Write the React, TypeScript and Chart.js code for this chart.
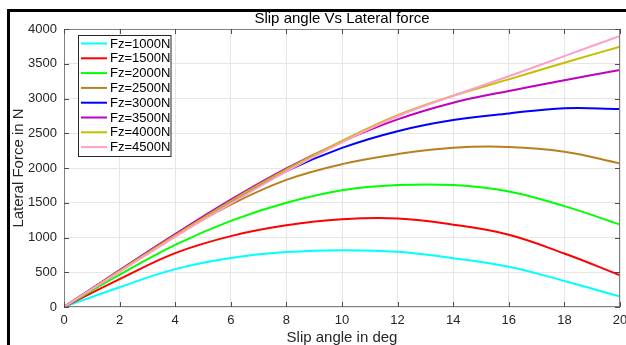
import { useEffect, useRef } from 'react';
import { Chart, registerables } from 'chart.js';

Chart.register(...registerables);

const FONT = '"Liberation Sans", Arial, Helvetica, sans-serif';

const chartTitle = 'Slip angle Vs Lateral force';
const xTitle = 'Slip angle in deg';
const yTitle = 'Lateral Force in N';

const slipAngles = [0, 2, 4, 6, 8, 10, 12, 14, 16, 18, 20];

const fz1000 = [0, 285, 545, 705, 790, 818, 795, 703, 580, 375, 152];
const fz1500 = [0, 400, 775, 1020, 1175, 1262, 1274, 1185, 1040, 769, 457];
const fz2000 = [0, 465, 895, 1240, 1500, 1681, 1754, 1754, 1662, 1451, 1187];
const fz2500 = [0, 515, 1025, 1475, 1830, 2056, 2200, 2291, 2303, 2234, 2066];
const fz3000 = [0, 525, 1040, 1520, 1955, 2290, 2530, 2690, 2785, 2860, 2849];
const fz3500 = [0, 530, 1050, 1545, 1995, 2380, 2700, 2940, 3108, 3262, 3411];
const fz4000 = [0, 520, 1030, 1525, 1980, 2390, 2760, 3040, 3275, 3515, 3746];
const fz4500 = [0, 505, 1010, 1490, 1950, 2370, 2745, 3040, 3320, 3610, 3900];

const seriesLabels = ['Fz=1000N', 'Fz=1500N', 'Fz=2000N', 'Fz=2500N', 'Fz=3000N', 'Fz=3500N', 'Fz=4000N', 'Fz=4500N'];
const seriesValues = [fz1000, fz1500, fz2000, fz2500, fz3000, fz3500, fz4000, fz4500];
const seriesColors = ['#00ffff', '#ff0000', '#00ff00', '#b8801f', '#0000ff', '#c000c0', '#c4be00', '#ff9ec8'];

const xTicks = { min: 0, max: 20, step: 2 };
const yTicks = { min: 0, max: 4000, step: 500 };

const decorPlugin = {
  id: 'decor',
  afterDatasetsDraw(chart: any) {
    const { ctx, chartArea: a, scales } = chart;
    ctx.save();
    ctx.strokeStyle = '#808080';
    ctx.lineWidth = 1;
    ctx.strokeRect(a.left + 0.5, a.top + 0.5, a.right - a.left - 1, a.bottom - a.top - 1);
    ctx.strokeStyle = '#4d4d4d';
    ctx.beginPath();
    for (let v = xTicks.min; v <= xTicks.max; v += xTicks.step) {
      const px = Math.round(scales.x.getPixelForValue(v)) + 0.5;
      ctx.moveTo(px, a.bottom);
      ctx.lineTo(px, a.bottom - 5);
      ctx.moveTo(px, a.top);
      ctx.lineTo(px, a.top + 5);
    }
    for (let v = yTicks.min; v <= yTicks.max; v += yTicks.step) {
      const py = Math.round(scales.y.getPixelForValue(v)) + 0.5;
      ctx.moveTo(a.left, py);
      ctx.lineTo(a.left + 5, py);
      ctx.moveTo(a.right, py);
      ctx.lineTo(a.right - 5, py);
    }
    ctx.stroke();

    const lx = 78.5, ly = 35.5, lw = 92.5, lh = 121;
    ctx.fillStyle = '#ffffff';
    ctx.fillRect(lx, ly, lw, lh);
    ctx.strokeStyle = '#262626';
    ctx.lineWidth = 1;
    ctx.strokeRect(lx, ly, lw, lh);
    ctx.font = `13px ${FONT}`;
    ctx.textBaseline = 'middle';
    ctx.textAlign = 'left';
    seriesLabels.forEach((lab, i) => {
      const cy = 43.5 + 14.8 * i;
      ctx.strokeStyle = seriesColors[i];
      ctx.lineWidth = 2;
      ctx.beginPath();
      ctx.moveTo(81, cy);
      ctx.lineTo(107, cy);
      ctx.stroke();
      ctx.fillStyle = '#000000';
      ctx.fillText(lab, 110, cy + 0.5);
    });
    ctx.restore();
  },
  afterDraw(chart: any) {
    const { ctx, chartArea: a } = chart;
    ctx.save();
    ctx.fillStyle = '#000000';
    ctx.font = `15px ${FONT}`;
    ctx.textAlign = 'center';
    ctx.textBaseline = 'middle';
    ctx.fillText(chartTitle, (a.left + a.right) / 2, 18.5);
    ctx.fillStyle = '#262626';
    ctx.fillText(xTitle, (a.left + a.right) / 2, 338);
    ctx.translate(18.5, (a.top + a.bottom) / 2);
    ctx.rotate(-Math.PI / 2);
    ctx.fillText(yTitle, 0, 0);
    ctx.restore();
  },
};

export default function App() {
  const ref = useRef<HTMLCanvasElement>(null);
  useEffect(() => {
    const datasets = seriesLabels.map((label, i) => ({
      label,
      data: slipAngles.map((x, j) => ({ x, y: seriesValues[i][j] })),
      borderColor: seriesColors[i],
      backgroundColor: seriesColors[i],
      borderWidth: 2,
      pointRadius: 0,
      tension: 0.4,
      fill: false,
      order: seriesLabels.length - i,
    }));
    const chart = new Chart(ref.current as HTMLCanvasElement, {
      type: 'line',
      data: { datasets },
      options: {
        animation: false,
        responsive: false,
        maintainAspectRatio: false,
        layout: { padding: { top: 29, right: 20, left: 0, bottom: 0 } },
        plugins: {
          legend: { display: false },
          title: { display: false },
          tooltip: { enabled: false },
        },
        scales: {
          x: {
            type: 'linear',
            min: xTicks.min,
            max: xTicks.max,
            afterFit: (s: any) => {
              s.height = 38;
              s.paddingLeft = 0;
              s.paddingRight = 0;
            },
            grid: { color: '#e6e6e6', drawTicks: false },
            border: { display: false },
            ticks: {
              stepSize: xTicks.step,
              padding: 6,
              color: '#262626',
              font: { family: FONT, size: 13 },
              callback: (v: any) => String(v),
            },
          },
          y: {
            type: 'linear',
            min: yTicks.min,
            max: yTicks.max,
            afterFit: (s: any) => {
              s.width = 64;
              s.paddingTop = 0;
              s.paddingBottom = 0;
            },
            grid: { color: '#e6e6e6', drawTicks: false },
            border: { display: false },
            ticks: {
              stepSize: yTicks.step,
              padding: 7,
              color: '#262626',
              font: { family: FONT, size: 13 },
              callback: (v: any) => String(v),
            },
          },
        },
      },
      plugins: [decorPlugin],
    });
    return () => chart.destroy();
  }, []);
  return (
    <div style={{ position: 'fixed', left: 0, top: 0, width: 626, height: 345, overflow: 'hidden', background: '#ffffff' }}>
      <canvas ref={ref} width={640} height={345} style={{ display: 'block', width: 640, height: 345 }} />
      <div
        style={{
          position: 'absolute',
          left: 7,
          top: 9,
          width: 700,
          height: 400,
          borderLeft: '3px solid #000',
          borderTop: '3px solid #000',
          pointerEvents: 'none',
        }}
      />
    </div>
  );
}
